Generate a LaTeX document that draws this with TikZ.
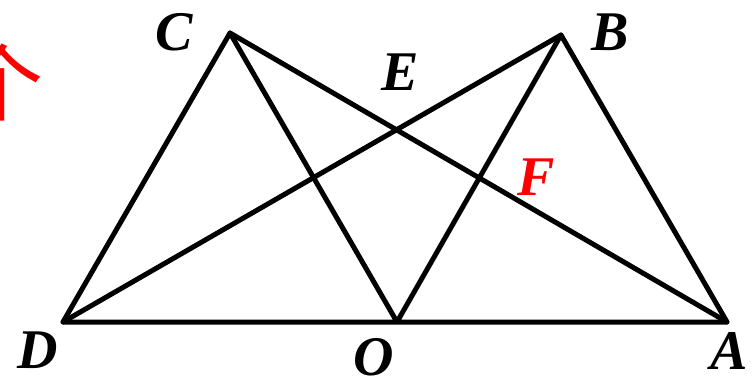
\documentclass[tikz,border=0pt]{standalone}
\usepackage{fontspec}
\setmainfont{Liberation Serif}
\newfontfamily\cjk{Noto Sans CJK SC}
\usepackage{xcolor}
\definecolor{figred}{RGB}{255,0,0}
\usetikzlibrary{positioning}

\begin{document}
\begin{tikzpicture}[
    x=1pt, y=-1pt,
    edge/.style={line width=5pt, line cap=round, line join=round},
    ptlabel/.style={font=\fontsize{56}{56}\selectfont\bfseries\itshape, inner sep=0pt},
]
\useasboundingbox (0,0) rectangle (752,387);

% ===== vertices =====
\coordinate (C) at (230, 33);
\coordinate (B) at (561, 35);
\coordinate (D) at (63, 322);
\coordinate (O) at (397, 322);
\coordinate (A) at (727, 322);

% ===== segments =====
\draw[edge] (D) -- (C) -- (O) -- (B) -- (A) -- cycle;
\draw[edge] (C) -- (A);
\draw[edge] (D) -- (B);

% ===== labels =====
\node[ptlabel] (lC) at (174, 32) {C};
\node[ptlabel] (lB) at (610, 32) {B};
\node[ptlabel] (lE) at (400, 72) {E};
\node[ptlabel, text=figred] (lF) at (536, 177) {F};
\node[ptlabel] (lD) at (38, 350) {D};
\node[ptlabel] (lO) at (374, 357) {O};
\node[ptlabel] (lA) at (729, 351) {A};

% clipped character at left edge
\begin{scope}
  \clip (0,0) rectangle (752,387);
  \node[font=\cjk\fontsize{84}{84}\selectfont, text=figred, inner sep=0pt] (cut) at (2, 82) {个};
\end{scope}

\end{tikzpicture}
\end{document}
